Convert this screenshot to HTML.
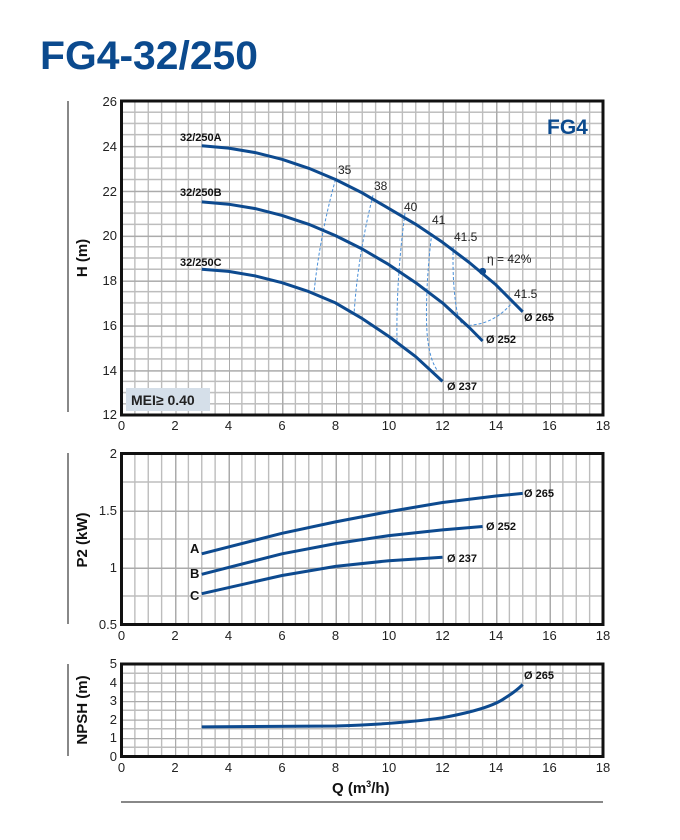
<!DOCTYPE html>
<html><head><meta charset="utf-8"><style>
html,body{margin:0;padding:0;background:#fff}
svg{display:block}
text{font-family:"Liberation Sans",sans-serif}
.t{font-size:13px;fill:#222}
.b{font-size:11px;font-weight:bold;fill:#111}
.n{font-size:12px;fill:#222}
</style></head><body>
<svg width="680" height="840" viewBox="0 0 680 840" xmlns="http://www.w3.org/2000/svg">
<defs>
<pattern id="g1" x="121.5" y="101" width="53.5" height="44.86" patternUnits="userSpaceOnUse">
<path d="M13.375 0V44.86M26.75 0V44.86M40.125 0V44.86M0 11.215H53.5M0 22.43H53.5M0 33.645H53.5" stroke="#bdbdbd" stroke-width="1.4"/>
<path d="M0 0V44.86M0 0H53.5" stroke="#ababab" stroke-width="3"/>
</pattern>
<pattern id="g2" x="121.5" y="453.5" width="53.5" height="57" patternUnits="userSpaceOnUse">
<path d="M13.375 0V57M26.75 0V57M40.125 0V57M0 28.5H53.5" stroke="#bdbdbd" stroke-width="1.4"/>
<path d="M0 0V57M0 0H53.5" stroke="#ababab" stroke-width="3"/>
</pattern>
<pattern id="g3" x="121.5" y="664" width="53.5" height="18.5" patternUnits="userSpaceOnUse">
<path d="M13.375 0V18.5M26.75 0V18.5M40.125 0V18.5M0 9.25H53.5" stroke="#bdbdbd" stroke-width="1.4"/>
<path d="M0 0V18.5M0 0H53.5" stroke="#ababab" stroke-width="2.5"/>
</pattern>
</defs>

<text x="40" y="69" font-size="40" font-weight="bold" fill="#0b4a8e" textLength="218" lengthAdjust="spacingAndGlyphs">FG4-32/250</text>

<!-- TOP CHART -->
<rect x="121.5" y="101" width="481.5" height="314" fill="url(#g1)"/>
<rect x="121.5" y="101" width="481.5" height="314" fill="none" stroke="#111" stroke-width="3"/>
<line x1="68" y1="101" x2="68" y2="412" stroke="#111" stroke-width="1"/>
<text transform="translate(87,258) rotate(-90)" text-anchor="middle" font-size="15" font-weight="bold" fill="#111">H (m)</text>
<g class="t" text-anchor="end">
<text x="117" y="106">26</text><text x="117" y="151">24</text><text x="117" y="196">22</text><text x="117" y="240">20</text><text x="117" y="285">18</text><text x="117" y="330">16</text><text x="117" y="375">14</text><text x="117" y="419">12</text>
</g>
<g class="t" text-anchor="middle">
<text x="121.5" y="430">0</text><text x="175" y="430">2</text><text x="228.5" y="430">4</text><text x="282" y="430">6</text><text x="335.5" y="430">8</text><text x="389" y="430">10</text><text x="442.5" y="430">12</text><text x="496" y="430">14</text><text x="549.5" y="430">16</text><text x="603" y="430">18</text>
</g>
<text x="547" y="134" font-size="21" font-weight="bold" fill="#0b4a8e">FG4</text>
<rect x="126" y="388" width="84" height="23" fill="#d5dfe9"/>
<text x="131" y="405" font-size="14" font-weight="bold" fill="#222">MEI≥ 0.40</text>

<g fill="none" stroke="#4a90d9" stroke-width="1" stroke-dasharray="3,2">
<path d="M335.5 179.5 Q320 235 314.1 291.6"/>
<path d="M373 195.2 Q358 255 354.2 311.8"/>
<path d="M405 213.1 Q396 280 397 341"/>
<path d="M431.8 233.3 Q426 280 426.5 320 Q427 355 437 370"/>
<path d="M453.2 246.8 Q452 290 458.5 318.6 Q463 327 472 325 Q495 323 512 302.9"/>
</g>

<g fill="none" stroke="#0d4a8f" stroke-width="3" stroke-linejoin="round" stroke-linecap="butt">
<polyline points="201.75,145.8 228.5,148.1 255.25,152.6 282,159.3 308.75,168.3 335.5,179.5 362.25,192.9 389,208.6 415.75,224.3 442.5,242.3 469.25,262.5 496,284.9 522.75,311.8"/>
<polyline points="201.75,201.9 228.5,204.2 255.25,208.6 282,215.4 308.75,224.3 335.5,235.6 362.25,249 389,264.7 415.75,282.7 442.5,302.9 469.25,327.5 482.6,341"/>
<polyline points="201.75,269.2 228.5,271.4 255.25,275.9 282,282.7 308.75,291.6 335.5,302.9 362.25,318.6 389,336.5 415.75,356.7 442.5,381.4"/>
</g>
<circle cx="482.6" cy="271.4" r="3.5" fill="#0d4a8f"/>
<g class="b">
<text x="180" y="141">32/250A</text><text x="180" y="196">32/250B</text><text x="180" y="266">32/250C</text>
<text x="524" y="321">Ø 265</text><text x="486" y="343">Ø 252</text><text x="447" y="390">Ø 237</text>
</g>
<g class="n">
<text x="338" y="174">35</text><text x="374" y="190">38</text><text x="404" y="211">40</text><text x="432" y="224">41</text><text x="454" y="241">41.5</text><text x="487" y="263">η = 42%</text><text x="514" y="298">41.5</text>
</g>

<!-- MIDDLE CHART -->
<rect x="121.5" y="453.5" width="481.5" height="171" fill="url(#g2)"/>
<rect x="121.5" y="453.5" width="481.5" height="171" fill="none" stroke="#111" stroke-width="3"/>
<line x1="68" y1="453" x2="68" y2="624" stroke="#111" stroke-width="1"/>
<text transform="translate(87,540) rotate(-90)" text-anchor="middle" font-size="15" font-weight="bold" fill="#111">P2 (kW)</text>
<g class="t" text-anchor="end">
<text x="117" y="458">2</text><text x="117" y="515">1.5</text><text x="117" y="572">1</text><text x="117" y="629">0.5</text>
</g>
<g class="t" text-anchor="middle">
<text x="121.5" y="640">0</text><text x="175" y="640">2</text><text x="228.5" y="640">4</text><text x="282" y="640">6</text><text x="335.5" y="640">8</text><text x="389" y="640">10</text><text x="442.5" y="640">12</text><text x="496" y="640">14</text><text x="549.5" y="640">16</text><text x="603" y="640">18</text>
</g>
<g fill="none" stroke="#0d4a8f" stroke-width="3" stroke-linejoin="round">
<polyline points="201.75,553.8 282,533.3 335.5,521.9 389,511.6 442.5,502.5 496,496 522.75,493.4"/>
<polyline points="201.75,574.3 282,553.8 335.5,543.6 389,535.6 442.5,529.9 482.6,526.5"/>
<polyline points="201.75,593.7 282,575.5 335.5,566.4 389,560.7 442.5,557.2"/>
</g>
<g class="b">
<text x="190" y="553" font-size="13">A</text><text x="190" y="578" font-size="13">B</text><text x="190" y="600" font-size="13">C</text>
<text x="524" y="497">Ø 265</text><text x="486" y="530">Ø 252</text><text x="447" y="562">Ø 237</text>
</g>

<!-- BOTTOM CHART -->
<rect x="121.5" y="664" width="481.5" height="92.5" fill="url(#g3)"/>
<rect x="121.5" y="664" width="481.5" height="92.5" fill="none" stroke="#111" stroke-width="3"/>
<line x1="68" y1="664" x2="68" y2="756" stroke="#111" stroke-width="1"/>
<text transform="translate(87,710) rotate(-90)" text-anchor="middle" font-size="15" font-weight="bold" fill="#111">NPSH (m)</text>
<g class="t" text-anchor="end">
<text x="117" y="668">5</text><text x="117" y="687">4</text><text x="117" y="705">3</text><text x="117" y="724">2</text><text x="117" y="742">1</text><text x="117" y="761">0</text>
</g>
<g class="t" text-anchor="middle">
<text x="121.5" y="772">0</text><text x="175" y="772">2</text><text x="228.5" y="772">4</text><text x="282" y="772">6</text><text x="335.5" y="772">8</text><text x="389" y="772">10</text><text x="442.5" y="772">12</text><text x="496" y="772">14</text><text x="549.5" y="772">16</text><text x="603" y="772">18</text>
</g>
<path fill="none" stroke="#0d4a8f" stroke-width="3" d="M201.75 726.9 L335.5 726 Q400 724 442.5 717.7 Q490 709 505 698 Q515 692 522.75 684.5"/>
<text x="524" y="679" class="b">Ø 265</text>
<text x="332" y="793" font-size="15" font-weight="bold" fill="#111">Q (m<tspan font-size="9" dy="-6">3</tspan><tspan dy="6">/h)</tspan></text>
<line x1="121" y1="802" x2="603" y2="802" stroke="#111" stroke-width="1"/>
</svg>
</body></html>
